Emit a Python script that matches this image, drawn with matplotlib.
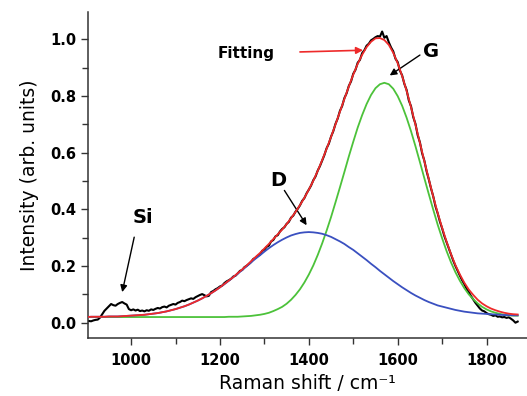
import numpy as np
import matplotlib
matplotlib.use("Agg")
import matplotlib.pyplot as plt
from matplotlib.ticker import MultipleLocator

# ---------------- data ----------------
x_fit = np.arange(900, 1871, 10)          # Raman shift grid of fitted curves
x_raw = np.arange(900, 1871, 5)           # Raman shift grid of measured spectrum

raw_intensity = [
    0.004, 0.006, 0.005, 0.008, 0.010, 0.011, 0.018, 0.030, 0.042, 0.050,
    0.058, 0.066, 0.062, 0.060, 0.066, 0.070, 0.073, 0.068, 0.064, 0.048,
    0.044, 0.047, 0.043, 0.046, 0.041, 0.043, 0.040, 0.044, 0.042, 0.047,
    0.045, 0.049, 0.052, 0.050, 0.055, 0.057, 0.054, 0.060, 0.063, 0.066,
    0.064, 0.070, 0.073, 0.078, 0.076, 0.080, 0.083, 0.086, 0.084, 0.090,
    0.094, 0.098, 0.101, 0.097, 0.093, 0.095, 0.108, 0.112, 0.118, 0.122,
    0.128, 0.131, 0.140, 0.146, 0.150, 0.155, 0.163, 0.166, 0.174, 0.183,
    0.186, 0.196, 0.201, 0.207, 0.214, 0.225, 0.229, 0.236, 0.240, 0.254,
    0.258, 0.268, 0.272, 0.287, 0.292, 0.305, 0.309, 0.322, 0.331, 0.337,
    0.349, 0.356, 0.371, 0.378, 0.392, 0.402, 0.414, 0.430, 0.440, 0.457,
    0.470, 0.484, 0.503, 0.516, 0.537, 0.553, 0.573, 0.592, 0.616, 0.632,
    0.657, 0.676, 0.702, 0.721, 0.748, 0.765, 0.793, 0.810, 0.836, 0.852,
    0.879, 0.893, 0.918, 0.928, 0.952, 0.962, 0.978, 0.985, 0.997, 1.002,
    1.008, 1.012, 1.010, 1.028, 1.006, 1.012, 0.990, 0.972, 0.958, 0.932,
    0.920, 0.890, 0.873, 0.843, 0.822, 0.785, 0.764, 0.726, 0.702, 0.662,
    0.637, 0.598, 0.572, 0.535, 0.506, 0.474, 0.446, 0.411, 0.386, 0.357,
    0.333, 0.306, 0.284, 0.261, 0.240, 0.219, 0.200, 0.183, 0.166, 0.150,
    0.136, 0.120, 0.108, 0.094, 0.082, 0.070, 0.060, 0.050, 0.043, 0.040,
    0.034, 0.030, 0.028, 0.024, 0.026, 0.021, 0.022, 0.019, 0.020, 0.017,
    0.019, 0.014, 0.008, 0.000, 0.004,
]

fit_total = [
    0.020, 0.021, 0.021, 0.021, 0.021, 0.022, 0.022, 0.022, 0.023, 0.024,
    0.025, 0.026, 0.027, 0.028, 0.030, 0.032, 0.034, 0.037, 0.040, 0.044,
    0.048, 0.053, 0.058, 0.064, 0.071, 0.078, 0.086, 0.095, 0.104, 0.114,
    0.125, 0.137, 0.149, 0.161, 0.175, 0.188, 0.202, 0.217, 0.232, 0.246,
    0.262, 0.278, 0.295, 0.312, 0.329, 0.348, 0.369, 0.391, 0.415, 0.441,
    0.470, 0.501, 0.536, 0.574, 0.614, 0.656, 0.700, 0.745, 0.790, 0.834,
    0.876, 0.914, 0.946, 0.973, 0.992, 1.004, 1.005, 0.998, 0.981, 0.953,
    0.916, 0.871, 0.819, 0.761, 0.699, 0.635, 0.570, 0.507, 0.445, 0.387,
    0.335, 0.286, 0.242, 0.203, 0.170, 0.141, 0.117, 0.098, 0.081, 0.068,
    0.058, 0.050, 0.044, 0.039, 0.035, 0.032, 0.030, 0.029,
]

d_band = [
    0.020, 0.021, 0.021, 0.021, 0.021, 0.022, 0.022, 0.022, 0.023, 0.024,
    0.025, 0.026, 0.027, 0.028, 0.030, 0.032, 0.034, 0.037, 0.040, 0.044,
    0.048, 0.053, 0.058, 0.064, 0.071, 0.078, 0.086, 0.095, 0.104, 0.114,
    0.125, 0.136, 0.148, 0.161, 0.173, 0.186, 0.199, 0.213, 0.226, 0.238,
    0.251, 0.263, 0.274, 0.284, 0.293, 0.301, 0.308, 0.313, 0.317, 0.319,
    0.320, 0.319, 0.317, 0.314, 0.309, 0.303, 0.295, 0.287, 0.278, 0.267,
    0.257, 0.245, 0.233, 0.221, 0.208, 0.196, 0.183, 0.171, 0.159, 0.147,
    0.136, 0.125, 0.115, 0.105, 0.096, 0.088, 0.080, 0.073, 0.067, 0.061,
    0.057, 0.053, 0.049, 0.045, 0.042, 0.039, 0.037, 0.035, 0.033, 0.032,
    0.031, 0.030, 0.029, 0.028, 0.027, 0.027, 0.026, 0.026,
]

g_band = [
    0.020, 0.020, 0.020, 0.020, 0.020, 0.020, 0.020, 0.020, 0.020, 0.020,
    0.020, 0.020, 0.020, 0.020, 0.020, 0.020, 0.020, 0.020, 0.020, 0.020,
    0.020, 0.020, 0.020, 0.020, 0.020, 0.020, 0.020, 0.020, 0.020, 0.020,
    0.020, 0.020, 0.021, 0.021, 0.021, 0.022, 0.023, 0.024, 0.026, 0.028,
    0.031, 0.035, 0.041, 0.048, 0.056, 0.067, 0.081, 0.098, 0.118, 0.142,
    0.170, 0.202, 0.239, 0.280, 0.325, 0.373, 0.425, 0.478, 0.532, 0.587,
    0.639, 0.689, 0.733, 0.772, 0.804, 0.828, 0.842, 0.847, 0.842, 0.826,
    0.800, 0.766, 0.724, 0.676, 0.623, 0.567, 0.510, 0.454, 0.399, 0.346,
    0.298, 0.253, 0.213, 0.178, 0.148, 0.122, 0.100, 0.083, 0.068, 0.056,
    0.047, 0.040, 0.035, 0.031, 0.028, 0.026, 0.025, 0.025,
]

x_ticks = [1000, 1200, 1400, 1600, 1800]
y_ticks = [0.0, 0.2, 0.4, 0.6, 0.8, 1.0]

# ---------------- figure ----------------
W, H = 527, 396
fig = plt.figure(figsize=(W / 100, H / 100), dpi=100)
ax = fig.add_axes([88 / W, 1 - 338 / H, (W - 88) / W, (338 - 12) / H])

ax.plot(x_raw, raw_intensity, color="black", lw=1.5, zorder=2)
ax.plot(x_fit, g_band, color="#4cc23a", lw=1.3, zorder=3)
ax.plot(x_fit, d_band, color="#3a50c0", lw=1.3, zorder=3)
ax.plot(x_fit, fit_total, color="#ee2a2a", lw=1.3, zorder=4)

ax.set_xlim(903, 1891)
ax.set_ylim(-0.054, 1.097)

for s in ["top", "right"]:
    ax.spines[s].set_visible(False)
for s in ["left", "bottom"]:
    ax.spines[s].set_linewidth(1.1)
    ax.spines[s].set_color("#333333")

ax.set_xticks(x_ticks)
ax.set_yticks(y_ticks)
ax.set_yticklabels([f"{v:.1f}" for v in y_ticks])
ax.xaxis.set_minor_locator(MultipleLocator(100))
ax.yaxis.set_minor_locator(MultipleLocator(0.1))
ax.tick_params(which="major", direction="out", length=5, width=1.0, color="#333333")
ax.tick_params(which="minor", direction="out", length=4, width=1.0, color="#333333")
ax.tick_params(axis="x", pad=6)
for lab in ax.get_xticklabels() + ax.get_yticklabels():
    lab.set_fontweight("bold")
    lab.set_fontsize(10.5)

ax.set_xlabel("Raman shift / cm⁻¹", fontsize=13.5, labelpad=4)
ax.set_ylabel("Intensity (arb. units)", fontsize=13.5, labelpad=8)

# ---------------- annotations ----------------
arrow_k = dict(arrowstyle="-|>", color="black", lw=1.0, mutation_scale=10,
               shrinkA=0, shrinkB=0)
arrow_r = dict(arrowstyle="-|>", color="#ee2a2a", lw=1.2, mutation_scale=10,
               shrinkA=0, shrinkB=0)

ax.text(1026, 0.373, "Si", fontsize=14, fontweight="bold", ha="center", va="center")
ax.annotate("", xy=(980, 0.108), xytext=(1007, 0.302), arrowprops=arrow_k)

ax.text(1331, 0.503, "D", fontsize=14, fontweight="bold", ha="center", va="center")
ax.annotate("", xy=(1395, 0.344), xytext=(1345, 0.467), arrowprops=arrow_k)

ax.text(1676, 0.956, "G", fontsize=14, fontweight="bold", ha="center", va="center")
ax.annotate("", xy=(1582, 0.873), xytext=(1650, 0.945), arrowprops=arrow_k)

ax.text(1259, 0.950, "Fitting", fontsize=11, fontweight="bold", ha="center", va="center")
ax.annotate("", xy=(1522, 0.962), xytext=(1380, 0.956), arrowprops=arrow_r)

fig.savefig("out.png", dpi=100)
